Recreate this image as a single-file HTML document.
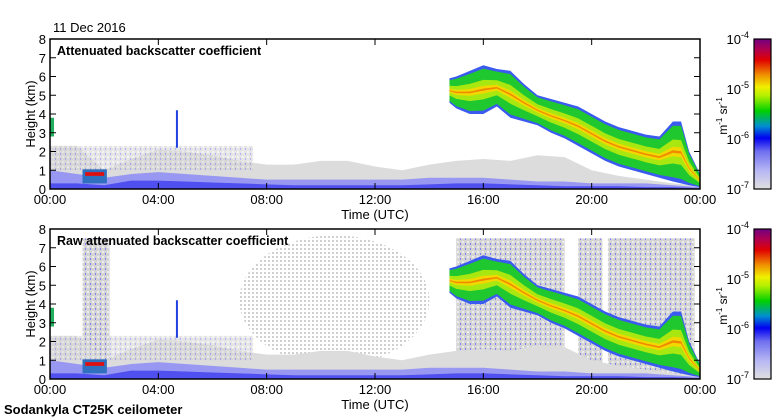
<!DOCTYPE html>
<html><head><meta charset="utf-8"><style>
body{margin:0;background:#fff}
svg{display:block;font-family:"Liberation Sans",sans-serif}
</style></head><body>
<svg id="c" width="780" height="420" viewBox="0 0 780 420">
<defs>
<linearGradient id="cb" x1="0" y1="1" x2="0" y2="0">
<stop offset="0" stop-color="#e0e0e0"/><stop offset="0.12" stop-color="#b8b8f4"/><stop offset="0.25" stop-color="#7070f0"/>
<stop offset="0.34" stop-color="#0000f0"/><stop offset="0.42" stop-color="#0090d0"/><stop offset="0.52" stop-color="#00d000"/>
<stop offset="0.62" stop-color="#b0f000"/><stop offset="0.68" stop-color="#f0f000"/><stop offset="0.76" stop-color="#f09000"/>
<stop offset="0.86" stop-color="#e00000"/><stop offset="0.93" stop-color="#b00050"/><stop offset="1" stop-color="#700080"/>
</linearGradient>
<pattern id="dots" width="4" height="4" patternUnits="userSpaceOnUse"><rect width="4" height="4" fill="#fff"/><rect width="2" height="2" fill="#d0d0d0"/></pattern>
<pattern id="dots2" width="5" height="5" patternUnits="userSpaceOnUse"><rect width="5" height="5" fill="#d4d4d4"/><rect x="2" y="1" width="2" height="2" fill="#ececec"/><rect x="0" y="3" width="1" height="2" fill="#8080f0"/></pattern>
</defs>
<text x="53" y="32" font-size="13">11 Dec 2016</text>
<text x="4" y="414" font-size="13" font-weight="bold">Sodankyla CT25K ceilometer</text>
</svg>
<script>
const hours=[0,1,2,3,4,5,6,7,8,9,10,11,12,13,14,15,16,17,18,19,20,21,22,23,24];
const grayTop=[2.3,2.3,1.0,1.6,2.1,2.0,1.8,1.5,1.3,1.3,1.5,1.5,1.2,1.0,1.3,1.5,1.6,1.5,1.8,1.7,1.0,0.7,0.5,0.3,0.2];
const lightTop=[1.0,0.8,0.6,0.8,0.9,0.8,0.7,0.6,0.5,0.5,0.5,0.5,0.5,0.5,0.6,0.6,0.6,0.5,0.4,0.4,0.3,0.3,0.3,0.2,0.1];
const blueTop=[0.3,0.3,0.2,0.45,0.45,0.4,0.35,0.3,0.25,0.2,0.2,0.2,0.2,0.2,0.25,0.3,0.3,0.25,0.2,0.15,0.15,0.15,0.1,0.1,0.05];
const cloudT=[14.75,15,15.5,16,16.5,17,17.5,18,18.5,19,19.5,20,20.5,21,21.5,22,22.5,23,23.3,23.6,24];
const cloudTop=[5.9,6.0,6.3,6.6,6.4,6.3,5.6,5.0,4.8,4.6,4.4,4.0,3.6,3.3,3.1,2.9,2.8,3.6,3.6,2.0,0.8];
const cloudBase=[4.6,4.3,4.0,4.0,4.4,3.8,3.6,3.4,3.0,2.7,2.3,1.9,1.5,1.2,1.0,0.8,0.6,0.4,0.3,0.2,0.1];
const rawNoiseStart=[1.2,15.0,19.5,20.6];
const rawNoiseEnd=[2.2,19.0,20.4,23.8];
const xTicks=["00:00","04:00","08:00","12:00","16:00","20:00","00:00"];
const cbLabels=["-4","-5","-6","-7"];
const NS="http://www.w3.org/2000/svg";
const svg=document.getElementById('c');
const X0=50,X1=700;
function sx(h){return X0+(X1-X0)*h/24;}
function mk(tag,attrs,parent){const e=document.createElementNS(NS,tag);for(const k in attrs)e.setAttribute(k,attrs[k]);(parent||svg).appendChild(e);return e;}
function panel(y0,raw,title,idx){
  const H=150;const sy=k=>y0+H-H*k/8;
  const g=mk('g',{});
  
  
  if(raw){
    const n=mk('ellipse',{cx:sx(10.5),cy:sy(4.2),rx:95,ry:65,fill:'url(#dots)'},g);
    
    rawNoiseStart.forEach((s,i)=>{const r=mk('rect',{x:sx(s),y:sy(7.5),width:sx(rawNoiseEnd[i])-sx(s),height:sy(0)-sy(7.5),fill:'url(#dots2)'},g);
      });
  }
  function area(top,base,fill,name){
    let p=hours.map((h,i)=>sx(h)+','+sy(top[i]));
    p=p.concat(hours.slice().reverse().map((h,i)=>sx(h)+','+sy(base?base[hours.length-1-i]:0)));
    const e=mk('polygon',{points:p.join(' '),fill:fill},g);
    
  }
  area(grayTop,null,'#dcdcdc','aerosol-gray');
  const sp=mk('rect',{x:sx(0),y:sy(2.3),width:sx(7.5)-sx(0),height:sy(1)-sy(2.3),fill:'url(#dots2)',opacity:0.6},g);
  
  area(lightTop,null,'#9898f2','aerosol-light');
  area(blueTop,null,'#5050f0','aerosol-blue');
  const f1=mk('rect',{x:sx(1.2),y:sy(1.05),width:sx(2.1)-sx(1.2),height:sy(0.3)-sy(1.05),fill:'#3070c0'},g);
  
  const f2=mk('rect',{x:sx(1.3),y:sy(0.9),width:sx(2.0)-sx(1.3),height:sy(0.7)-sy(0.9),fill:'#e01010'},g);
  
  const f3=mk('rect',{x:sx(0),y:sy(3.8),width:4,height:sy(2.8)-sy(3.8),fill:'#20b060'},g);
  
  const f4=mk('rect',{x:sx(4.65),y:sy(4.2),width:2,height:sy(2.2)-sy(4.2),fill:'#2040e0'},g);
  
  const bands=[[0,'#3a5af0'],[0.07,'#20c830'],[0.3,'#a8e810'],[0.42,'#f0d800'],[0.48,'#f08800']];
  bands.forEach(([f,c])=>{
    let p=cloudT.map((t,i)=>{const d=cloudTop[i]-cloudBase[i];return sx(t)+','+sy(cloudTop[i]-d*f);});
    p=p.concat(cloudT.slice().reverse().map((t,j)=>{const i=cloudT.length-1-j;const d=cloudTop[i]-cloudBase[i];return sx(t)+','+sy(cloudBase[i]+d*f);}));
    const e=mk('polygon',{points:p.join(' '),fill:c},g);
    
  });
  const fr=mk('rect',{x:X0,y:y0,width:X1-X0,height:H,fill:'none',stroke:'#000','stroke-width':1.5},g);
  
  for(let k=0;k<=8;k++){
    const y=sy(k);
    mk('line',{x1:X0,x2:X0+6,y1:y,y2:y,stroke:'#000'},g);
    mk('line',{x1:X1-6,x2:X1,y1:y,y2:y,stroke:'#000'},g);
    const t=mk('text',{x:X0-4,y:y+5,'font-size':13,'text-anchor':'end'},g);t.textContent=k;
    
  }
  xTicks.forEach((l,i)=>{
    const x=sx(i*4);
    mk('line',{x1:x,x2:x,y1:y0,y2:y0+6,stroke:'#000'},g);
    mk('line',{x1:x,x2:x,y1:y0+H-6,y2:y0+H,stroke:'#000'},g);
    const t=mk('text',{x:x,y:y0+H+15,'font-size':13,'text-anchor':'middle'},g);t.textContent=l;
    
  });
  const tt=mk('text',{x:X0+7,y:y0+16,'font-size':12.5,'font-weight':'bold'},g);tt.textContent=title;
  
  const xl=mk('text',{x:375,y:y0+H+30,'font-size':13,'text-anchor':'middle'},g);xl.textContent='Time (UTC)';
  
  const yl=mk('text',{x:0,y:0,'font-size':13,'text-anchor':'middle',transform:'translate(35,'+(y0+H/2)+') rotate(-90)'},g);yl.textContent='Height (km)';
  
  const cb=mk('rect',{x:754,y:y0,width:17,height:H,fill:'url(#cb)',stroke:'#000','stroke-width':1.2},g);
  
  cbLabels.forEach((e,i)=>{
    const y=y0+i*H/3;
    const t=mk('text',{x:749,y:y+5,'font-size':13,'text-anchor':'end'},g);
    t.innerHTML='10<tspan dy="-6" font-size="9">'+e+'</tspan>';
    
  });
  const u=mk('text',{x:0,y:0,'font-size':12,'text-anchor':'middle',transform:'translate(727,'+(y0+H/2+2)+') rotate(-90)'},g);
  u.innerHTML='m<tspan dy="-5" font-size="8">-1</tspan><tspan dy="5"> sr</tspan><tspan dy="-5" font-size="8">-1</tspan>';
  
}
panel(39,false,'Attenuated backscatter coefficient',1);
panel(229,true,'Raw attenuated backscatter coefficient',2);
</script>
</body></html>
